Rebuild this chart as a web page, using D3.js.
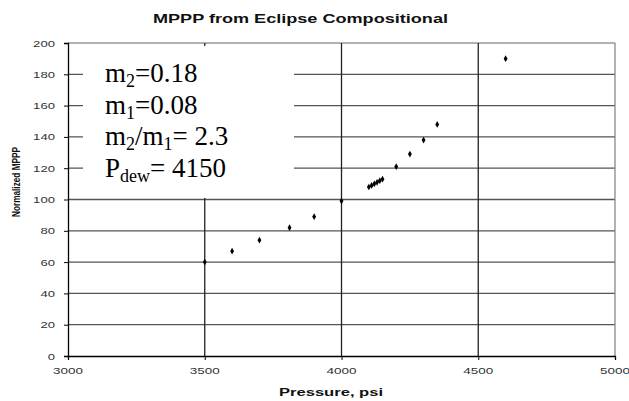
<!DOCTYPE html>
<html><head><meta charset="utf-8">
<script src="https://cdn.jsdelivr.net/npm/d3@7"></script>
<style>body{margin:0;background:#fff}svg{display:block}</style>
</head><body>
<script>
const title = "MPPP from Eclipse Compositional";
const xLabel = "Pressure, psi";
const yLabel = "Normalized MPPP";
const xTicks = [3000, 3500, 4000, 4500, 5000];
const yTicks = [0, 20, 40, 60, 80, 100, 120, 140, 160, 180, 200];
const pressure = [3500, 3600, 3700, 3810, 3900, 4000, 4100, 4110, 4120, 4130, 4140, 4150, 4200, 4250, 4300, 4350, 4600];
const mppp = [60, 67, 74, 82, 89, 99, 108, 109, 110, 111, 112, 113, 121, 129, 138, 148, 190];

const W = 629, H = 401;
const svg = d3.select("body").append("svg").attr("width", W).attr("height", H);
const x = d3.scaleLinear().domain([3000, 5000]).range([68, 615]);
const y = d3.scaleLinear().domain([0, 200]).range([356, 43]);

// horizontal gridlines
svg.append("g").selectAll("line").data(yTicks.filter(d => d > 0)).join("line")
  .attr("x1", x(3000)).attr("x2", x(5000)).attr("y1", d => y(d)).attr("y2", d => y(d))
  .attr("stroke", d => d === 200 ? "#999" : "#555").attr("stroke-width", 1.3);
// vertical gridlines
svg.append("g").selectAll("line").data(xTicks.filter(d => d > 3000)).join("line")
  .attr("x1", d => x(d)).attr("x2", d => x(d)).attr("y1", y(0)).attr("y2", y(200))
  .attr("stroke", d => d === 5000 ? "#888" : "#222").attr("stroke-width", 1.3);

// annotation box
svg.append("rect").attr("x", 83).attr("y", 46).attr("width", 211).attr("height", 152).attr("fill", "#fff");

// axes
const xAxis = d3.axisBottom(x).tickValues(xTicks).tickSize(4).tickFormat("");
const gx = svg.append("g").attr("transform", `translate(0,${y(0)})`).call(xAxis);
gx.select(".domain").attr("stroke", "#000").attr("stroke-width", 1.3);
gx.selectAll(".tick line").attr("stroke", "#000");
const yAxis = d3.axisLeft(y).tickValues(yTicks).tickSize(4).tickFormat("");
const gy = svg.append("g").attr("transform", `translate(${x(3000)},0)`).call(yAxis);
gy.select(".domain").attr("stroke", "#000").attr("stroke-width", 1.3);
gy.selectAll(".tick line").attr("stroke", "#000");

// tick labels
svg.append("g").selectAll("text").data(xTicks).join("text")
  .attr("x", d => x(d)).attr("y", 374).attr("text-anchor", "middle")
  .attr("font-family", "Liberation Sans, Arial, sans-serif").attr("font-size", 9.5)
  .attr("fill", "#333").attr("textLength", 30).attr("lengthAdjust", "spacingAndGlyphs")
  .text(d => d);
svg.append("g").selectAll("text").data(yTicks).join("text")
  .attr("x", 55).attr("y", d => y(d) + 3.5).attr("text-anchor", "end")
  .attr("font-family", "Liberation Sans, Arial, sans-serif").attr("font-size", 9.5)
  .attr("fill", "#333").attr("textLength", d => String(d).length * 7.3).attr("lengthAdjust", "spacingAndGlyphs")
  .text(d => d);

// title and axis labels
svg.append("text").attr("x", 300.5).attr("y", 23).attr("text-anchor", "middle")
  .attr("font-family", "Liberation Sans, Arial, sans-serif").attr("font-weight", "bold").attr("font-size", 12)
  .attr("fill", "#111").attr("textLength", 295).attr("lengthAdjust", "spacingAndGlyphs").text(title);
svg.append("text").attr("x", 331).attr("y", 396).attr("text-anchor", "middle")
  .attr("font-family", "Liberation Sans, Arial, sans-serif").attr("font-weight", "bold").attr("font-size", 11)
  .attr("fill", "#111").attr("textLength", 104).attr("lengthAdjust", "spacingAndGlyphs").text(xLabel);
svg.append("text").attr("transform", "translate(20,182) rotate(-90)").attr("text-anchor", "middle")
  .attr("font-family", "Liberation Sans, Arial, sans-serif").attr("font-weight", "bold").attr("font-size", 11)
  .attr("fill", "#111").attr("textLength", 70).attr("lengthAdjust", "spacingAndGlyphs").text(yLabel);

// annotation text
const ann = [
  [["m", null], ["2", "sub"], ["=0.18", null]],
  [["m", null], ["1", "sub"], ["=0.08", null]],
  [["m", null], ["2", "sub"], ["/m", null], ["1", "sub"], ["= 2.3", null]],
  [["P", null], ["dew", "sub"], ["= 4150", null]]
];
const baselines = [82, 113.5, 145, 176.5];
ann.forEach((parts, i) => {
  const t = svg.append("text").attr("x", 105).attr("y", baselines[i])
    .attr("font-family", "Liberation Serif, Times New Roman, serif").attr("font-size", 27).attr("fill", "#000");
  parts.forEach(([s, k], j) => {
    if (k === "sub") {
      t.append("tspan").attr("font-size", 18).attr("dy", 5).text(s);
    } else {
      const sp = t.append("tspan").text(s);
      if (j > 0) sp.attr("dy", -5);
    }
  });
});

// data points
const data = pressure.map((p, i) => ({p, v: mppp[i]}));
svg.append("g").selectAll("path").data(data).join("path")
  .attr("d", d3.symbol(d3.symbolDiamond, 13))
  .attr("transform", d => `translate(${x(d.p)},${y(d.v)})`)
  .attr("fill", "#000");
</script>
</body></html>
